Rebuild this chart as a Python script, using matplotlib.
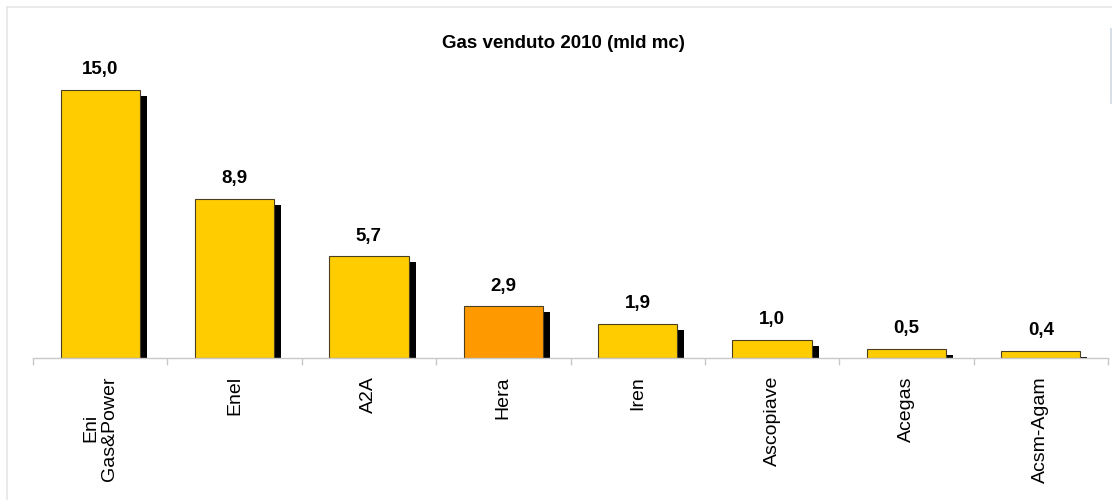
import numpy as np
import matplotlib
matplotlib.use("Agg")
import matplotlib.pyplot as plt
from matplotlib.lines import Line2D

plt.rcParams['font.family'] = ['Liberation Sans', 'DejaVu Sans']

# dati
societa = ["Eni\nGas&Power", "Enel", "A2A", "Hera", "Iren", "Ascopiave", "Acegas", "Acsm-Agam"]
gas_venduto = [15.0, 8.9, 5.7, 2.9, 1.9, 1.0, 0.5, 0.4]
etichette = ["15,0", "8,9", "5,7", "2,9", "1,9", "1,0", "0,5", "0,4"]
colori = ["#FFCC00", "#FFCC00", "#FFCC00", "#FF9900", "#FFCC00", "#FFCC00", "#FFCC00", "#FFCC00"]

W, H = 1112, 500
fig = plt.figure(figsize=(W / 100, H / 100), dpi=100)
ax = fig.add_axes([33 / W, 142 / H, (1108 - 33) / W, (358 - 30) / H])

x = np.arange(len(societa))
larg = 0.59
ymax = 18.36
ax.set_xlim(-0.5, len(societa) - 0.5)
ax.set_ylim(0, ymax)

# ombra: 7px a destra, 6px in basso
px_x = (len(societa)) / (1108 - 33)
px_y = ymax / (358 - 30)
dx = 7 * px_x
dy = 6 * px_y
ombre = [max(v - dy, 0.06) for v in gas_venduto]
ax.bar(x + dx, ombre, width=larg, color="black", zorder=1)
ax.bar(x, gas_venduto, width=larg, color=colori, edgecolor="#4a4020", linewidth=0.8, zorder=2)

for xi, v, t in zip(x, gas_venduto, etichette):
    ax.annotate(t, (xi, v), xytext=(0, 14.5), textcoords="offset points",
                ha="center", va="center", fontsize=13.5, fontweight="bold")

for s in ["top", "right", "left"]:
    ax.spines[s].set_visible(False)
ax.spines["bottom"].set_color("#c8c8c8")
ax.spines["bottom"].set_linewidth(1)
ax.set_yticks([])

ax.set_xticks(x)
ax.set_xticklabels(societa, rotation=90, va="top", ha="center", multialignment="center", fontsize=14)
ax.tick_params(axis="x", which="major", length=0, pad=13)
ax.set_xticks(np.arange(-0.5, len(societa), 1), minor=True)
ax.tick_params(axis="x", which="minor", length=5, color="#c8c8c8", width=1)

fig.text(563 / W, 1 - 44 / H, "Gas venduto 2010 (mld mc)", ha="center", va="center",
         fontsize=13.5, fontweight="bold")

# cornice
fig.add_artist(Line2D([7 / W, 1], [1 - 7 / H, 1 - 7 / H], color="#e6e6e6", lw=1.2))
fig.add_artist(Line2D([7 / W, 7 / W], [0, 1 - 7 / H], color="#e6e6e6", lw=1.2))
fig.add_artist(Line2D([1110.5 / W, 1110.5 / W], [1 - 29 / H, 1 - 103 / H], color="#d0d8e0", lw=1.2))

fig.savefig("out.png", dpi=100)
